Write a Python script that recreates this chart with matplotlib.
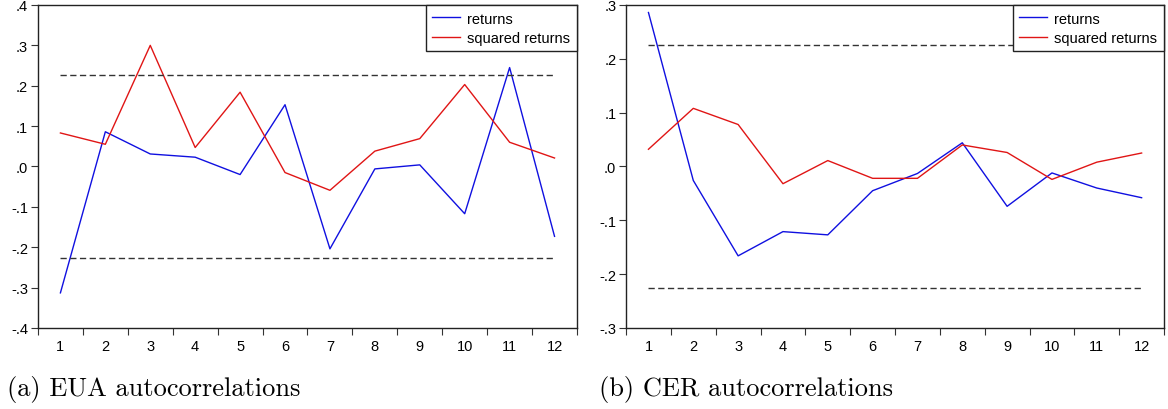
import numpy as np
import matplotlib
matplotlib.use('Agg')
import matplotlib.pyplot as plt

# 数据：滞后阶数与自相关系数
lags = list(range(1, 13))

eua_returns = [-0.313, 0.086, 0.031, 0.023, -0.020, 0.153, -0.204, -0.006, 0.004, -0.117, 0.245, -0.173]
eua_squared = [0.083, 0.055, 0.300, 0.047, 0.184, -0.015, -0.059, 0.038, 0.069, 0.203, 0.060, 0.021]

cer_returns = [0.286, -0.026, -0.166, -0.121, -0.127, -0.045, -0.013, 0.044, -0.074, -0.012, -0.040, -0.058]
cer_squared = [0.032, 0.108, 0.078, -0.032, 0.011, -0.022, -0.022, 0.040, 0.026, -0.024, 0.008, 0.025]

conf_band = 0.226   # 置信区间 ±1.96/sqrt(n)

eua_yticks = [-0.4, -0.3, -0.2, -0.1, 0.0, 0.1, 0.2, 0.3, 0.4]
cer_yticks = [-0.3, -0.2, -0.1, 0.0, 0.1, 0.2, 0.3]

captions = ['(a) EUA autocorrelations', '(b) CER autocorrelations']

plt.rcParams['font.family'] = ['Liberation Sans', 'DejaVu Sans']


def fmt(v):
    # EViews 风格的刻度：.4 / -.4 / .0
    s = '%.1f' % v
    if s.startswith('-0'):
        s = '-' + s[2:]
    elif s.startswith('0'):
        s = s[1:]
    return s


def draw_panel(ax, ret, sq, yticks):
    ax.plot(lags, ret, color='#1010e0', lw=1.0, label='returns')
    ax.plot(lags, sq, color='#e01515', lw=1.0, label='squared returns')
    ax.plot([lags[0], lags[-1]], [conf_band, conf_band], color='#333333', lw=1.0,
            linestyle=(0, (4.5, 2.5)))
    ax.plot([lags[0], lags[-1]], [-conf_band, -conf_band], color='#333333', lw=1.0,
            linestyle=(0, (4.5, 2.5)))

    ax.set_xlim(0.5, 12.5)
    ax.set_ylim(yticks[0], yticks[-1])
    ax.set_yticks(yticks)
    ax.set_yticklabels([fmt(v) for v in yticks], fontsize=10.5)

    # x 轴：刻度线在类别之间，标签在类别中心
    ax.set_xticks(np.arange(0.5, 13.0, 1.0))
    ax.set_xticklabels([])
    ax.set_xticks(lags, minor=True)
    ax.set_xticklabels([str(l) for l in lags], minor=True, fontsize=10.5)
    ax.tick_params(axis='x', which='major', direction='out', length=5, width=0.8, color='#333333')
    ax.tick_params(axis='x', which='minor', length=0, pad=8)
    ax.tick_params(axis='y', direction='out', length=5, width=0.8, color='#333333', pad=2)

    for sp in ax.spines.values():
        sp.set_linewidth(1.0)
        sp.set_color('#222222')

    leg = ax.legend(loc='upper right', bbox_to_anchor=(1.0, 1.0), borderaxespad=0,
                    fancybox=False, edgecolor='#222222', framealpha=1, fontsize=10.5,
                    handlelength=1.9, handletextpad=0.5, labelspacing=0.35, borderpad=0.45)
    leg.get_frame().set_linewidth(1.0)


fig = plt.figure(figsize=(11.68, 4.10), dpi=100)
ax1 = fig.add_axes([0.0325, 0.1976, 0.4615, 0.7878])
ax2 = fig.add_axes([0.5360, 0.1976, 0.4606, 0.7878])

draw_panel(ax1, eua_returns, eua_squared, eua_yticks)
draw_panel(ax2, cer_returns, cer_squared, cer_yticks)

# 子图标题（LaTeX 风格字体）
fig.text(0.006, 0.035, captions[0], fontfamily='cmr10', fontsize=19, ha='left', va='baseline')
fig.text(0.513, 0.035, captions[1], fontfamily='cmr10', fontsize=19, ha='left', va='baseline')

plt.savefig('out.png', dpi=100)
